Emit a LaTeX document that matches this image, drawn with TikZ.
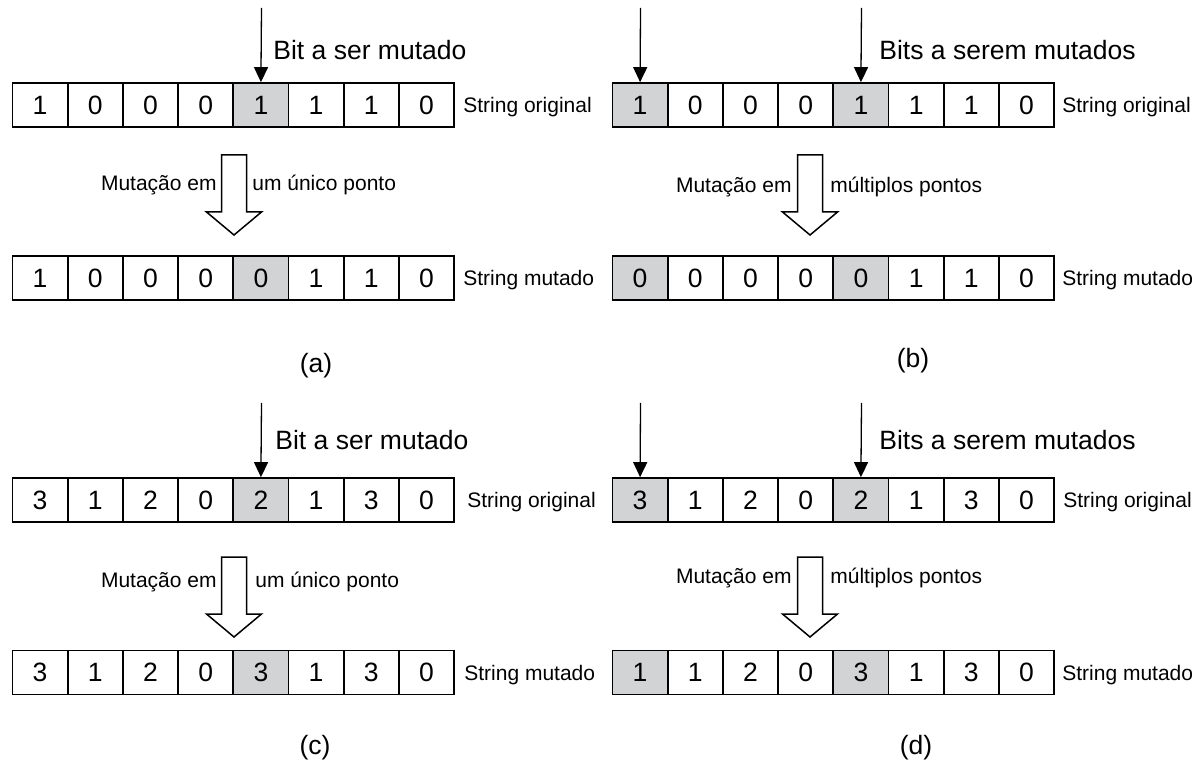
\documentclass[tikz,border=0pt]{standalone}
\usepackage{fontspec}
\setmainfont{Liberation Sans}
\usetikzlibrary{arrows.meta,positioning}
\definecolor{cellgray}{RGB}{209,211,212}
\newcommand{\bigtxt}{\fontsize{13.25}{16}\selectfont}
\newcommand{\smalltxt}{\fontsize{10.5}{12.6}\selectfont}

\begin{document}
\begin{tikzpicture}[x=0.5pt, y=-0.5pt,
    bit/.style = {draw, line width=0.85pt, minimum width=27.6pt, minimum height=22pt, inner sep=0pt, font=\bigtxt},
    lbl/.style = {inner sep=0pt, font=\smalltxt, text depth=0pt},
    big/.style = {inner sep=0pt, font=\bigtxt, text depth=0pt},
    pin/.style = {line width=0.65pt, -{Triangle[length=7.5pt, width=7pt]}},
    pics/fatarrow/.style = {code={
        \draw[line width=0.75pt, fill=white] (-12.5,-80) -- (-12.5,-23) -- (-27.5,-23) -- (0,0)
          -- (27.5,-23) -- (12.5,-23) -- (12.5,-80) -- cycle;}}]
\useasboundingbox (0,0) rectangle (1202,763);

% (a) mutacao em um unico ponto
\foreach \v/\f [count=\i] in {1/white,0/white,0/white,0/white,1/cellgray,1/white,1/white,0/white}
  \node[bit, fill=\f] (ao\i) at ({55.2*\i-15.1}, 105) {\v};
\foreach \v/\f [count=\i] in {1/white,0/white,0/white,0/white,0/cellgray,1/white,1/white,0/white}
  \node[bit, fill=\f] (am\i) at ({55.2*\i-15.1}, 278) {\v};
\coordinate (ta) at (261.5, 8);
\draw[pin] (ta) -- (ao5.north);
\node[big, anchor=west] (ba) at (273, 50) {Bit a ser mutado};
\node[lbl, right=4pt of ao8] (soa) {String original};
\node[lbl, right=4pt of am8] (sma) {String mutado};
\pic at (234, 235) {fatarrow};
\node[lbl, anchor=east] (mea) at (217, 183) {Mutação em};
\node[lbl, anchor=west] (upa) at (252, 183) {um único ponto};
\node[big] (capa) at (316, 363) {(a)};

% (b) mutacao em multiplos pontos
\foreach \v/\f [count=\i] in {1/cellgray,0/white,0/white,0/white,1/cellgray,1/white,1/white,0/white}
  \node[bit, fill=\f] (bo\i) at ({55.2*\i+584.9}, 105) {\v};
\foreach \v/\f [count=\i] in {0/cellgray,0/white,0/white,0/white,0/cellgray,1/white,1/white,0/white}
  \node[bit, fill=\f] (bm\i) at ({55.2*\i+584.9}, 278) {\v};
\coordinate (tb1) at (640.5, 8);
\coordinate (tb5) at (861.5, 8);
\draw[pin] (tb1) -- (bo1.north);
\draw[pin] (tb5) -- (bo5.north);
\node[big, anchor=west] (bb) at (879, 50) {Bits a serem mutados};
\node[lbl, right=3.5pt of bo8] (sob) {String original};
\node[lbl, right=3.5pt of bm8] (smb) {String mutado};
\pic at (810, 235) {fatarrow};
\node[lbl, anchor=east] (meb) at (792, 185) {Mutação em};
\node[lbl, anchor=west] (mpb) at (830, 185) {múltiplos pontos};
\node[big] (capb) at (913, 358) {(b)};

% (c) mutacao em um unico ponto, alfabeto {0,1,2,3}
\foreach \v/\f [count=\i] in {3/white,1/white,2/white,0/white,2/cellgray,1/white,3/white,0/white}
  \node[bit, fill=\f] (co\i) at ({55.2*\i-15.1}, 500) {\v};
\foreach \v/\f [count=\i] in {3/white,1/white,2/white,0/white,3/cellgray,1/white,3/white,0/white}
  \node[bit, fill=\f] (cm\i) at ({55.2*\i-15.1}, 672.5) {\v};
\coordinate (tc) at (261.5, 403);
\draw[pin] (tc) -- (co5.north);
\node[big, anchor=west] (bc) at (275, 440) {Bit a ser mutado};
\node[lbl, right=6pt of co8] (soc) {String original};
\node[lbl, right=4.5pt of cm8] (smc) {String mutado};
\pic at (234, 637) {fatarrow};
\node[lbl, anchor=east] (mec) at (217, 580) {Mutação em};
\node[lbl, anchor=west] (upc) at (255, 580) {um único ponto};
\node[big] (capc) at (315, 745) {(c)};

% (d) mutacao em multiplos pontos, alfabeto {0,1,2,3}
\foreach \v/\f [count=\i] in {3/cellgray,1/white,2/white,0/white,2/cellgray,1/white,3/white,0/white}
  \node[bit, fill=\f] (do\i) at ({55.2*\i+584.9}, 500) {\v};
\foreach \v/\f [count=\i] in {1/cellgray,1/white,2/white,0/white,3/cellgray,1/white,3/white,0/white}
  \node[bit, fill=\f] (dm\i) at ({55.2*\i+584.9}, 672.5) {\v};
\coordinate (td1) at (640.5, 403);
\coordinate (td5) at (861.5, 403);
\draw[pin] (td1) -- (do1.north);
\draw[pin] (td5) -- (do5.north);
\node[big, anchor=west] (bd) at (879, 440) {Bits a serem mutados};
\node[lbl, right=4pt of do8] (sod) {String original};
\node[lbl, right=3.5pt of dm8] (smd) {String mutado};
\pic at (810, 637) {fatarrow};
\node[lbl, anchor=east] (med) at (792, 576) {Mutação em};
\node[lbl, anchor=west] (mpd) at (830, 576) {múltiplos pontos};
\node[big] (capd) at (916, 745) {(d)};
\end{tikzpicture}
\end{document}
